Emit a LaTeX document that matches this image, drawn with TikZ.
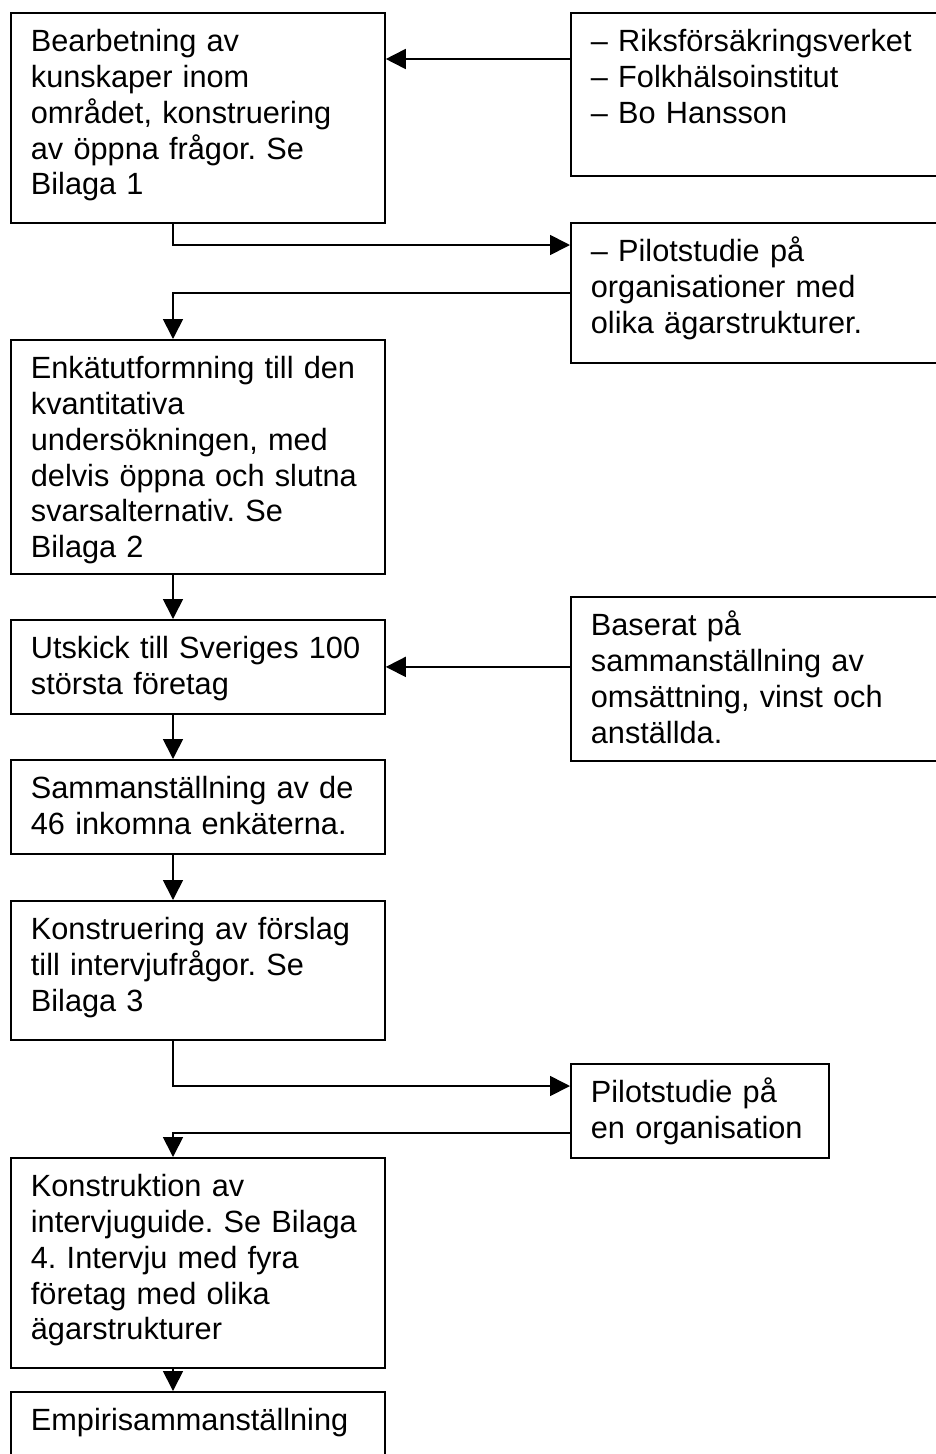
\documentclass[tikz,border=0pt]{standalone}
\usepackage{fontspec}
\setmainfont{Liberation Sans}
\usetikzlibrary{arrows.meta}
\hyphenpenalty=10000
\frenchspacing
\begin{document}
\begin{tikzpicture}[x=1pt, y=-1pt,
    stepbox/.style={draw, line width=1.8pt, anchor=north west, align=left, inner xsep=20pt, inner ysep=0pt, text width=334pt, text height=39pt, font=\fontsize{30.7pt}{35.75pt}\selectfont},
    sidebox/.style={stepbox, text width=340pt},
    flow/.style={line width=1.7pt, -{Triangle[length=20pt, width=20pt]}}]
    \clip (0,0) rectangle (936,1454);
    \coordinate (col) at (173,0);

    \node[stepbox, text depth=171pt] (bearb) at (10,12) {Bearbetning av\\kunskaper inom\\området, konstruering\\av öppna frågor. Se\\Bilaga 1};
    \node[sidebox, text depth=124pt] (src) at (570,12) {– Riksförsäkringsverket\\– Folkhälsoinstitut\\– Bo Hansson};
    \node[sidebox, text depth=101pt] (pilotA) at (570,222) {– Pilotstudie på\\organisationer med\\olika ägarstrukturer.};
    \node[stepbox, text depth=195pt] (enkat) at (10,339) {Enkätutformning till den\\kvantitativa\\undersökningen, med\\delvis öppna och slutna\\svarsalternativ. Se\\Bilaga 2};
    \node[stepbox, text depth=55pt] (utskick) at (10,619) {Utskick till Sveriges 100\\största företag};
    \node[sidebox, text depth=125pt] (basis) at (570,596) {Baserat på\\sammanställning av\\omsättning, vinst och\\anställda.};
    \node[stepbox, text depth=55pt] (samman) at (10,759) {Sammanställning av de\\46 inkomna enkäterna.};
    \node[stepbox, text depth=100pt] (forslag) at (10,900) {Konstruering av förslag\\till intervjufrågor. Se\\Bilaga 3};
    \node[stepbox, text width=218pt, text depth=55pt] (pilotB) at (570,1063) {Pilotstudie på\\en organisation};
    \node[stepbox, text depth=171pt] (guide) at (10,1157) {Konstruktion av\\intervjuguide. Se Bilaga\\4. Intervju med fyra\\företag med olika\\ägarstrukturer};
    \node[stepbox, text depth=41pt] (empiri) at (10,1391) {Empirisammanställning};

    \coordinate (srcout) at ([yshift=-47pt]src.north west);
    \draw[flow] (srcout) -- (bearb.east |- srcout);
    \draw[flow] (bearb.south -| col) |- ([yshift=-23pt]pilotA.north west);
    \draw[flow] (pilotA.west) -| (enkat.north -| col);
    \draw[flow] (enkat.south -| col) -- (utskick.north -| col);
    \draw[flow] (basis.west |- utskick.east) -- (utskick.east);
    \draw[flow] (utskick.south -| col) -- (samman.north -| col);
    \draw[flow] (samman.south -| col) -- (forslag.north -| col);
    \draw[flow] (forslag.south -| col) |- ([yshift=-23pt]pilotB.north west);
    \draw[flow] ([yshift=-70pt]pilotB.north west) -| (guide.north -| col);
    \draw[flow] (guide.south -| col) -- (empiri.north -| col);
\end{tikzpicture}
\end{document}
